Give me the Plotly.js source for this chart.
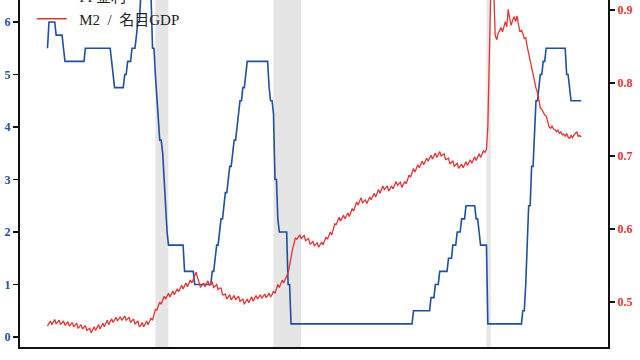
<!DOCTYPE html>
<html>
<head>
<meta charset="utf-8">
<script src="https://cdn.plot.ly/plotly-3.0.1.min.js"></script>
<style>
html,body{margin:0;padding:0;overflow:hidden;background:#fff;width:640px;height:360px;}
#chart{position:absolute;left:0;top:-40px;width:640px;height:420px;}
</style>
</head>
<body>
<div id="chart"></div>
<script>
// Monthly data starting Jan 1995
const startYear = 1995;
const ffRate = [
  // 1995
  5.5,6,6,6,6,6,5.75,5.75,5.75,5.75,5.75,5.5,
  // 1996
  5.25,5.25,5.25,5.25,5.25,5.25,5.25,5.25,5.25,5.25,5.25,5.25,
  // 1997
  5.25,5.25,5.5,5.5,5.5,5.5,5.5,5.5,5.5,5.5,5.5,5.5,
  // 1998
  5.5,5.5,5.5,5.5,5.5,5.5,5.5,5.5,5.25,5.0,4.75,4.75,
  // 1999
  4.75,4.75,4.75,4.75,4.75,5.0,5.0,5.25,5.25,5.25,5.5,5.5,
  // 2000
  5.5,5.75,6.0,6.0,6.5,6.5,6.5,6.5,6.5,6.5,6.5,6.5,
  // 2001
  5.5,5.5,5.0,4.5,4.0,3.75,3.75,3.5,3.0,2.5,2.0,1.75,
  // 2002
  1.75,1.75,1.75,1.75,1.75,1.75,1.75,1.75,1.75,1.75,1.25,1.25,
  // 2003
  1.25,1.25,1.25,1.25,1.25,1.0,1.0,1.0,1.0,1.0,1.0,1.0,
  // 2004
  1.0,1.0,1.0,1.0,1.0,1.25,1.25,1.5,1.75,1.75,2.0,2.25,
  // 2005
  2.25,2.5,2.75,2.75,3.0,3.25,3.25,3.5,3.75,3.75,4.0,4.25,
  // 2006
  4.5,4.5,4.75,4.75,5.0,5.25,5.25,5.25,5.25,5.25,5.25,5.25,
  // 2007
  5.25,5.25,5.25,5.25,5.25,5.25,5.25,5.25,4.75,4.5,4.5,4.25,
  // 2008
  3.0,3.0,2.25,2.0,2.0,2.0,2.0,2.0,2.0,1.0,1.0,0.25,
  // 2009
  0.25,0.25,0.25,0.25,0.25,0.25,0.25,0.25,0.25,0.25,0.25,0.25,
  // 2010
  0.25,0.25,0.25,0.25,0.25,0.25,0.25,0.25,0.25,0.25,0.25,0.25,
  // 2011
  0.25,0.25,0.25,0.25,0.25,0.25,0.25,0.25,0.25,0.25,0.25,0.25,
  // 2012
  0.25,0.25,0.25,0.25,0.25,0.25,0.25,0.25,0.25,0.25,0.25,0.25,
  // 2013
  0.25,0.25,0.25,0.25,0.25,0.25,0.25,0.25,0.25,0.25,0.25,0.25,
  // 2014
  0.25,0.25,0.25,0.25,0.25,0.25,0.25,0.25,0.25,0.25,0.25,0.25,
  // 2015
  0.25,0.25,0.25,0.25,0.25,0.25,0.25,0.25,0.25,0.25,0.25,0.5,
  // 2016
  0.5,0.5,0.5,0.5,0.5,0.5,0.5,0.5,0.5,0.5,0.5,0.75,
  // 2017
  0.75,0.75,1.0,1.0,1.0,1.25,1.25,1.25,1.25,1.25,1.25,1.5,
  // 2018
  1.5,1.5,1.75,1.75,1.75,2.0,2.0,2.0,2.25,2.25,2.25,2.5,
  // 2019
  2.5,2.5,2.5,2.5,2.5,2.5,2.25,2.25,2.0,1.75,1.75,1.75,
  // 2020
  1.75,1.75,0.25,0.25,0.25,0.25,0.25,0.25,0.25,0.25,0.25,0.25,
  // 2021
  0.25,0.25,0.25,0.25,0.25,0.25,0.25,0.25,0.25,0.25,0.25,0.25,
  // 2022
  0.25,0.25,0.5,0.5,1.0,1.75,2.5,2.5,3.25,3.25,4.0,4.5,
  // 2023
  4.5,4.75,5.0,5.0,5.25,5.25,5.5,5.5,5.5,5.5,5.5,5.5,
  // 2024
  5.5,5.5,5.5,5.5,5.5,5.5,5.5,5.5,5.0,5.0,4.75,4.5,
  // 2025
  4.5,4.5,4.5,4.5,4.5,4.5,4.5
];
const m2GdpRatio = [
  // 1995
  0.467,0.471,0.474,0.469,0.472,0.476,0.470,0.473,0.475,0.469,0.471,0.474,
  // 1996
  0.468,0.470,0.473,0.467,0.470,0.472,0.466,0.468,0.471,0.464,0.467,0.469,
  // 1997
  0.463,0.465,0.468,0.461,0.462,0.464,0.458,0.462,0.466,0.461,0.465,0.469,
  // 1998
  0.463,0.467,0.471,0.466,0.470,0.475,0.469,0.473,0.477,0.472,0.476,0.479,
  // 1999
  0.474,0.477,0.480,0.475,0.478,0.481,0.475,0.477,0.479,0.472,0.475,0.477,
  // 2000
  0.470,0.472,0.474,0.466,0.468,0.472,0.466,0.470,0.474,0.469,0.473,0.478,
  // 2001
  0.475,0.482,0.490,0.489,0.494,0.500,0.497,0.502,0.508,0.504,0.508,0.512,
  // 2002
  0.507,0.511,0.515,0.510,0.514,0.518,0.514,0.518,0.523,0.518,0.522,0.526,
  // 2003
  0.521,0.526,0.530,0.526,0.531,0.535,0.541,0.533,0.526,0.520,0.523,0.526,
  // 2004
  0.521,0.525,0.529,0.523,0.525,0.527,0.520,0.522,0.524,0.517,0.519,0.519,
  // 2005
  0.510,0.510,0.511,0.504,0.507,0.510,0.503,0.506,0.509,0.503,0.505,0.508,
  // 2006
  0.501,0.503,0.504,0.497,0.501,0.504,0.499,0.503,0.507,0.501,0.505,0.509,
  // 2007
  0.504,0.507,0.510,0.505,0.508,0.511,0.506,0.509,0.512,0.507,0.510,0.515,
  // 2008
  0.512,0.518,0.524,0.520,0.525,0.530,0.526,0.530,0.536,0.540,0.550,0.562,
  // 2009
  0.572,0.580,0.588,0.586,0.590,0.592,0.587,0.589,0.591,0.584,0.585,0.587,
  // 2010
  0.579,0.581,0.583,0.577,0.579,0.581,0.575,0.578,0.582,0.578,0.583,0.589,
  // 2011
  0.586,0.591,0.596,0.592,0.598,0.607,0.606,0.612,0.616,0.611,0.615,0.619,
  // 2012
  0.614,0.618,0.622,0.617,0.622,0.628,0.625,0.631,0.637,0.633,0.638,0.643,
  // 2013
  0.636,0.638,0.640,0.635,0.640,0.644,0.640,0.644,0.649,0.644,0.649,0.654,
  // 2014
  0.649,0.654,0.659,0.654,0.657,0.659,0.652,0.655,0.659,0.655,0.660,0.665,
  // 2015
  0.660,0.662,0.664,0.657,0.660,0.665,0.662,0.668,0.674,0.671,0.677,0.683,
  // 2016
  0.678,0.683,0.688,0.684,0.689,0.693,0.688,0.693,0.697,0.693,0.697,0.701,
  // 2017
  0.696,0.700,0.704,0.698,0.702,0.706,0.700,0.702,0.703,0.695,0.696,0.697,
  // 2018
  0.689,0.691,0.693,0.686,0.688,0.690,0.683,0.686,0.689,0.684,0.688,0.692,
  // 2019
  0.687,0.691,0.695,0.690,0.694,0.699,0.694,0.699,0.703,0.698,0.703,0.707,
  // 2020
  0.705,0.709,0.740,0.820,0.925,0.945,0.930,0.866,0.859,0.868,0.872,0.876,
  // 2021
  0.870,0.878,0.884,0.877,0.901,0.888,0.879,0.886,0.891,0.884,0.892,0.880,
  // 2022
  0.870,0.872,0.868,0.861,0.862,0.850,0.841,0.828,0.818,0.812,0.800,0.793,
  // 2023
  0.787,0.778,0.766,0.764,0.760,0.756,0.755,0.748,0.740,0.738,0.741,0.737,
  // 2024
  0.736,0.733,0.736,0.731,0.733,0.729,0.730,0.727,0.731,0.726,0.724,0.728,
  // 2025
  0.725,0.729,0.731,0.733,0.727,0.728,0.726
];
const recessionStarts = ['2001-03-01','2007-12-01','2020-02-01'];
const recessionEnds   = ['2001-11-30','2009-06-30','2020-04-30'];
const xTickVals = ['1996-01-01','2000-01-01','2004-01-01','2008-01-01','2012-01-01','2016-01-01','2020-01-01','2024-01-01'];
const xTickText = ['1996','2000','2004','2008','2012','2016','2020','2024'];
const leftTicks = [0,1,2,3,4,5,6];
const rightTicks = [0.5,0.6,0.7,0.8,0.9];
const seriesNames = ['FF金利','M2 / 名目GDP'];

const dates = ffRate.map((_, i) => {
  const y = startYear + Math.floor(i / 12);
  const m = (i % 12) + 1;
  return y + '-' + String(m).padStart(2, '0') + '-01';
});

const BLUE = '#1f4fa0';
const RED = '#e03535';
const SERIF = '"Liberation Serif", "DejaVu Serif", "Noto Sans CJK JP", serif';
const NB = '\u00a0';
const legendLabel = s => NB + NB + s.split(' ').join(NB + NB);

const traces = [
  {x: dates, y: ffRate, type: 'scatter', mode: 'lines', name: legendLabel(seriesNames[0]),
   line: {color: BLUE, width: 1.6}, yaxis: 'y'},
  {x: dates.slice(0, m2GdpRatio.length), y: m2GdpRatio, type: 'scatter', mode: 'lines', name: legendLabel(seriesNames[1]),
   line: {color: RED, width: 1.3}, yaxis: 'y2'}
];

const shapes = recessionStarts.map((s, i) => ({
  type: 'rect', xref: 'x', yref: 'paper', x0: s, x1: recessionEnds[i], y0: 0, y1: 1,
  fillcolor: '#e5e5e5', line: {width: 0}, layer: 'below'
}));

const layout = {
  width: 640, height: 420,
  margin: {l: 20, r: 32, t: 20, b: 33},
  paper_bgcolor: 'rgba(0,0,0,0)', plot_bgcolor: '#fff',
  showlegend: true,
  legend: {x: 0.02, y: 1.0, xanchor: 'left', yanchor: 'top', bgcolor: 'rgba(0,0,0,0)',
           font: {family: SERIF, size: 15, color: '#222'}, tracegroupgap: 0},
  xaxis: {type: 'date', range: ['1993-06-06', '2027-01-12'], showgrid: false, zeroline: false,
          showline: true, linecolor: '#111', linewidth: 2, ticks: '',
          tickvals: xTickVals, ticktext: xTickText, ticklabelstandoff: 8,
          tickfont: {family: SERIF, size: 12, color: '#333', weight: 'bold'}},
  yaxis: {range: [-0.19, 6.8], showgrid: false, zeroline: false, showline: true,
          linecolor: '#111', linewidth: 2, ticks: 'outside', ticklen: 5, tickwidth: 1.2, tickcolor: '#111',
          tickvals: leftTicks, tickfont: {family: SERIF, size: 12, color: BLUE, weight: 'bold'}},
  yaxis2: {range: [0.4384, 0.9411], overlaying: 'y', side: 'right', showgrid: false, zeroline: false,
           showline: true, linecolor: '#111', linewidth: 2, ticks: 'outside', ticklen: 5, tickwidth: 1.2,
           tickcolor: '#111', tickvals: rightTicks, tickformat: '.1f',
           tickfont: {family: SERIF, size: 12, color: RED, weight: 'bold'}},
  shapes: shapes
};

Plotly.newPlot('chart', traces, layout, {displayModeBar: false, staticPlot: true});
</script>
</body>
</html>
